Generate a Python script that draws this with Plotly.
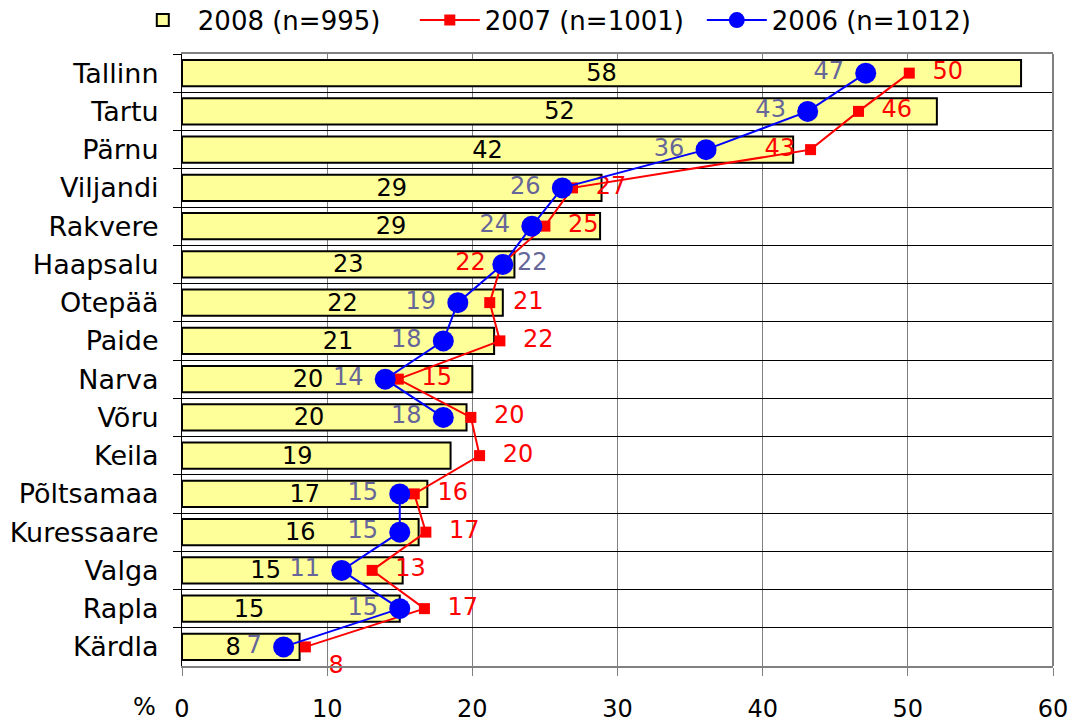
import plotly.graph_objects as go

cities = ["Tallinn", "Tartu", "Pärnu", "Viljandi", "Rakvere", "Haapsalu", "Otepää", "Paide",
          "Narva", "Võru", "Keila", "Põltsamaa", "Kuressaare", "Valga", "Rapla", "Kärdla"]
v2008 = [57.8, 52.0, 42.1, 28.9, 28.8, 22.9, 22.1, 21.5, 20.0, 19.6, 18.5, 16.9, 16.3, 15.2, 15.0, 8.1]
v2007 = [50.1, 46.6, 43.3, 26.9, 25.0, 22.0, 21.2, 21.9, 14.9, 19.9, 20.5, 16.0, 16.8, 13.1, 16.7, 8.5]
v2006 = [47.1, 43.1, 36.1, 26.2, 24.1, 22.1, 19.0, 18.0, 14.0, 18.0, None, 15.0, 15.0, 11.0, 15.0, 7.0]
lbl2008 = ["58", "52", "42", "29", "29", "23", "22", "21", "20", "20", "19", "17", "16", "15", "15", "8"]
lbl2007 = ["50", "46", "43", "27", "25", "22", "21", "22", "15", "20", "20", "16", "17", "13", "17", "8"]
lbl2006 = ["47", "43", "36", "26", "24", "22", "19", "18", "14", "18", "", "15", "15", "11", "15", "7"]

# label styling (not data): trailing padding to nudge some bar labels left, text positions
pad2008 = [0, 0, 0, 0, 0, 0, 0, 0, 5, 4, 5, 0, 0, 7, 11, 2]
pos2007 = ["middle right"] * 16
pos2007[2] = "middle left"
pos2007[5] = "middle left"
pos2007[15] = "bottom right"
pos2006 = ["middle left"] * 16
pos2006[5] = "middle right"

NB = "\u00a0"
FONT = "DejaVu Sans"
FS = 24

fig = go.Figure()
fig.add_trace(go.Bar(
    y=cities, x=v2008, orientation="h", name="2008 (n=995)",
    marker=dict(color="#FFFF99", line=dict(color="black", width=2)),
    width=0.68, text=[t + NB * p for t, p in zip(lbl2008, pad2008)],
    textposition="inside", insidetextanchor="middle",
    constraintext="none", textangle=0,
    textfont=dict(color="black", size=FS, family=FONT),
))
fig.add_trace(go.Scatter(
    y=cities, x=v2007, mode="lines+markers+text", name="2007 (n=1001)",
    line=dict(color="#FF0000", width=2),
    marker=dict(symbol="square", size=11, color="#FF0000"),
    text=[NB + NB + t if p.endswith("right") else t + NB for t, p in zip(lbl2007, pos2007)],
    textposition=pos2007, cliponaxis=False,
    textfont=dict(color="#FF0000", size=FS, family=FONT),
))
fig.add_trace(go.Scatter(
    y=cities, x=v2006, mode="lines+markers+text", name="2006 (n=1012)",
    line=dict(color="#0000FF", width=2),
    marker=dict(symbol="circle", size=21, color="#0000FF"),
    text=[(t + NB if p.endswith("left") else t) if t else t for t, p in zip(lbl2006, pos2006)],
    textposition=pos2006, cliponaxis=False,
    connectgaps=False,
    textfont=dict(color="#666699", size=FS, family=FONT),
))

fig.update_layout(
    width=1083, height=722,
    margin=dict(l=182, r=30, t=54, b=56, autoexpand=False),
    paper_bgcolor="white", plot_bgcolor="white",
    font=dict(family=FONT, size=FS, color="black"),
    showlegend=True,
    legend=dict(orientation="h", xref="container", yref="container",
                x=0.118, xanchor="left", y=0.972, yanchor="middle",
                font=dict(size=26, family=FONT), itemwidth=60,
                entrywidth=212, entrywidthmode="pixels",
                traceorder="normal", bgcolor="rgba(0,0,0,0)"),
    bargap=0.32,
)
fig.update_xaxes(
    range=[0, 60], dtick=10, tick0=0, automargin=False,
    showgrid=True, gridcolor="#808080", gridwidth=1,
    showline=True, linecolor="#808080", linewidth=2, mirror=True,
    ticks="outside", ticklen=8, tickcolor="#808080", tickwidth=1,
    ticklabelstandoff=12, zeroline=False,
    tickfont=dict(size=FS, family=FONT, color="black"),
)
fig.update_yaxes(
    range=[len(cities) - 0.5, -0.5], type="category", tickson="boundaries", automargin=False,
    showgrid=True, gridcolor="black", gridwidth=1,
    showline=True, linecolor="black", linewidth=1,
    ticks="outside", ticklen=8, tickcolor="black",
    ticklabelstandoff=17,
    tickfont=dict(size=27, family=FONT, color="black"),
)
fig.add_shape(type="line", xref="paper", yref="paper", x0=1, x1=1, y0=0, y1=1,
              line=dict(color="#808080", width=2))
fig.add_annotation(text="%", xref="paper", yref="paper", x=0, y=0,
                   xanchor="right", yanchor="top", xshift=-24, yshift=-25,
                   showarrow=False, font=dict(size=FS, family=FONT, color="black"))

fig.write_html("out.html", config={"displayModeBar": False},
               post_script="document.body.style.margin='0';")
